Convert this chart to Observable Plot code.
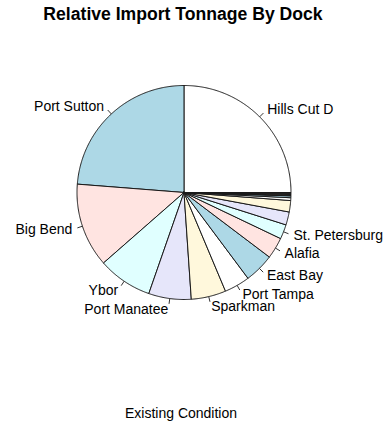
<!DOCTYPE html>
<html>
<head>
<meta charset="utf-8">
<script src="https://cdn.jsdelivr.net/npm/d3@7"></script>
<script src="https://cdn.jsdelivr.net/npm/@observablehq/plot@0.6"></script>
<style>
  html, body { margin: 0; padding: 0; background: #fff; }
  #wrap { position: relative; width: 384px; height: 425px; overflow: hidden; font-family: "Liberation Sans", Arial, sans-serif; color: #000; }
  #title { position: absolute; left: 0; top: 4px; width: 366px; text-align: center; font-weight: bold; font-size: 17.6px; line-height: 20px; }
  #chart { position: absolute; left: 0; top: 32px; }
  #caption { position: absolute; left: 0; top: 405px; width: 362px; text-align: center; font-size: 14px; line-height: 16px; }
</style>
</head>
<body>
<div id="wrap">
  <div id="title">Relative Import Tonnage By Dock</div>
  <div id="chart"></div>
  <div id="caption">Existing Condition</div>
</div>
<script>
// Dock names (empty = unlabeled small slices) and relative tonnage (%)
const docks = ["Hills Cut D", "Port Sutton", "Big Bend", "Ybor", "Port Manatee", "Sparkman",
  "Port Tampa", "East Bay", "Alafia", "St. Petersburg", "", "", "", "", "", "", "", "", "", "", "", ""];
const tonnage = [25.0, 23.75, 12.69, 8.22, 6.42, 5.25,
  3.86, 4.5, 3.22, 2.19, 1.97, 1.72, 0.42, 0.28, 0.08, 0.07, 0.07, 0.06, 0.06, 0.06, 0.05, 0.05];
const palette = ["white", "lightblue", "mistyrose", "lightcyan", "lavender", "cornsilk"];

const total = d3.sum(tonnage);
const slices = [];
let cum = 0;
tonnage.forEach((v, i) => {
  const a0 = cum / total * 2 * Math.PI;
  cum += v;
  const a1 = cum / total * 2 * Math.PI;
  slices.push({i, name: docks[i], a0, a1, mid: (a0 + a1) / 2, color: palette[i % palette.length]});
});

// polygon points for each slice (unit radius, counter-clockwise from 3 o'clock)
const pts = [];
for (const s of slices) {
  pts.push({i: s.i, x: 0, y: 0, color: s.color});
  const n = Math.max(2, Math.ceil((s.a1 - s.a0) / (Math.PI / 360)));
  for (let k = 0; k <= n; k++) {
    const a = s.a0 + (s.a1 - s.a0) * k / n;
    pts.push({i: s.i, x: Math.cos(a), y: Math.sin(a), color: s.color});
  }
  pts.push({i: s.i, x: 0, y: 0, color: s.color});
}
const labeled = slices.filter(s => s.name !== "");
const leftLabels = labeled.filter(s => Math.cos(s.mid) < 0);
const rightLabels = labeled.filter(s => Math.cos(s.mid) >= 0);

const W = 384, H = 360, R = 107, cx = 183.5, cy = 160;
const labelText = (data, anchor) => Plot.text(data, {
  x: d => 1.1 * Math.cos(d.mid), y: d => 1.1 * Math.sin(d.mid),
  text: "name", textAnchor: anchor, lineAnchor: "middle",
  fontSize: 14, fill: "#000"
});
const chart = Plot.plot({
  width: W,
  height: H,
  margin: 0,
  x: {domain: [-cx / R, (W - cx) / R], axis: null},
  y: {domain: [-(H - cy) / R, cy / R], axis: null},
  color: {type: "identity"},
  style: {fontFamily: "'Liberation Sans', Arial, sans-serif", background: "white", overflow: "visible"},
  marks: [
    Plot.line(pts, {x: "x", y: "y", z: "i", fill: "color", stroke: "#1a1a1a", strokeWidth: 1, strokeLinejoin: "round", curve: "linear"}),
    Plot.link(labeled, {
      x1: d => Math.cos(d.mid), y1: d => Math.sin(d.mid),
      x2: d => 1.05 * Math.cos(d.mid), y2: d => 1.05 * Math.sin(d.mid),
      stroke: "#333", strokeWidth: 1
    }),
    labelText(leftLabels, "end"),
    labelText(rightLabels, "start")
  ]
});
document.getElementById("chart").appendChild(chart);
</script>
</body>
</html>
